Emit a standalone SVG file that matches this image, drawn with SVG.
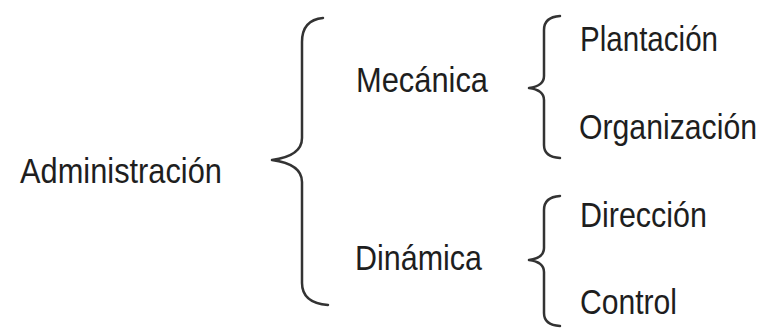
<svg xmlns="http://www.w3.org/2000/svg" width="768" height="329" viewBox="0 0 768 329">
<style>
.t{font-family:"Liberation Sans",Arial,sans-serif;font-size:36px;fill:#1e1e1e}
.b{fill:none;stroke:#333;stroke-width:2.5;stroke-linecap:round;stroke-linejoin:round}
</style>
<rect width="768" height="329" fill="#fff"/>
<g id="connectors">
<path class="b" d="M323,18 Q302,20 302,42 L302,138 Q302,156 272,160 Q302,164 302,182 L302,283 Q302,303 328,305"/>
<path class="b" d="M560,16 Q544,17 544,30 L544,76 Q544,86 529,88 Q544,90 544,100 L544,145 Q544,157 560,158"/>
<path class="b" d="M560,196 Q544,197 544,210 L544,248 Q544,258 529,260 Q544,262 544,272 L544,313 Q544,325 560,326"/>
</g>
<g id="administracion"><text class="t" transform="translate(20,183) scale(0.85,1)" textLength="237.6" lengthAdjust="spacingAndGlyphs">Administración</text></g>
<g id="mecanica"><text class="t" transform="translate(356,92) scale(0.85,1)" textLength="155.3" lengthAdjust="spacingAndGlyphs">Mecánica</text></g>
<g id="dinamica"><text class="t" transform="translate(355,270) scale(0.85,1)" textLength="149.4" lengthAdjust="spacingAndGlyphs">Dinámica</text></g>
<g id="plantacion"><text class="t" transform="translate(580,51) scale(0.85,1)" textLength="162.4" lengthAdjust="spacingAndGlyphs">Plantación</text></g>
<g id="organizacion"><text class="t" transform="translate(579,139) scale(0.85,1)" textLength="209.4" lengthAdjust="spacingAndGlyphs">Organización</text></g>
<g id="direccion"><text class="t" transform="translate(580,227) scale(0.85,1)" textLength="149.4" lengthAdjust="spacingAndGlyphs">Dirección</text></g>
<g id="control"><text class="t" transform="translate(580,314) scale(0.85,1)" textLength="114.1" lengthAdjust="spacingAndGlyphs">Control</text></g>
</svg>
